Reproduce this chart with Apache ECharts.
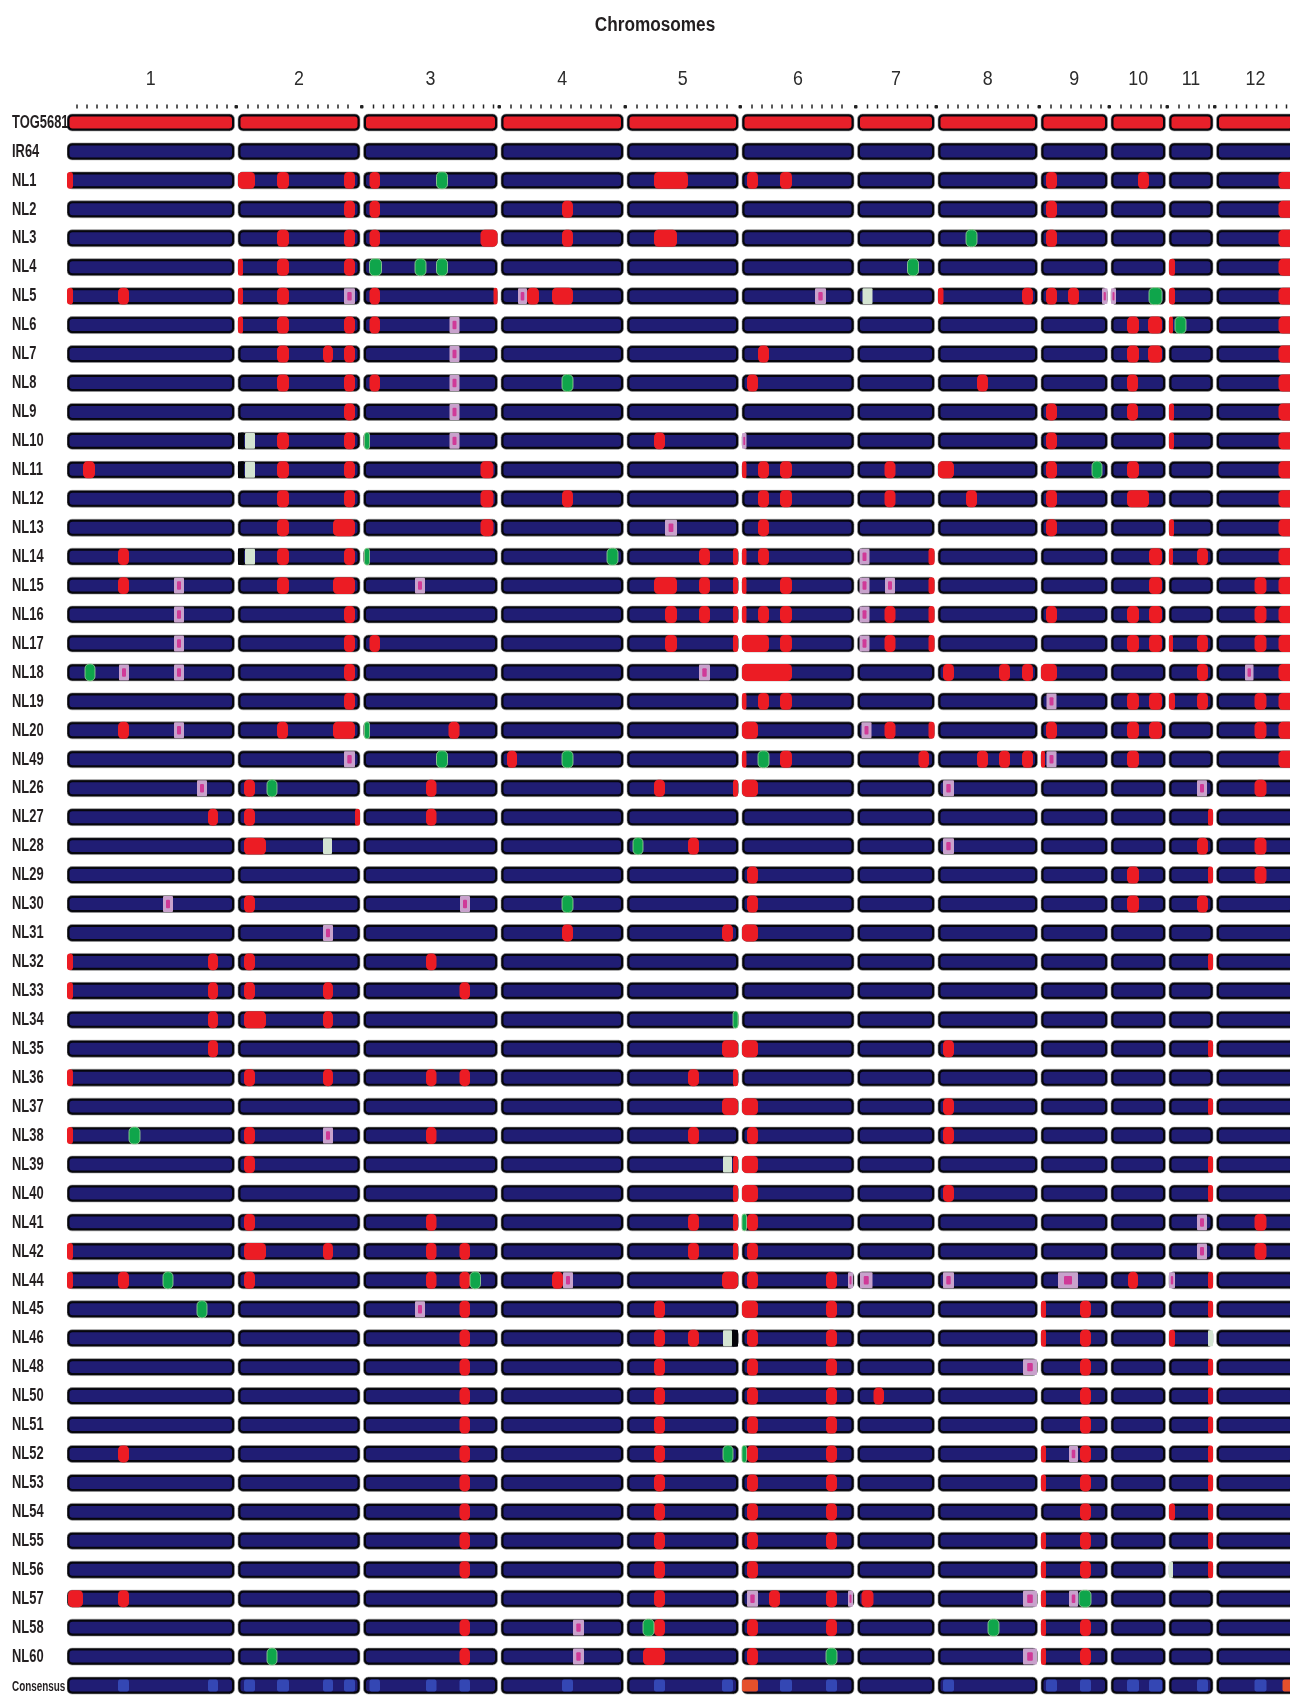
<!DOCTYPE html>
<html><head><meta charset="utf-8">
<script src="https://cdn.jsdelivr.net/npm/echarts@6/dist/echarts.min.js"></script>
<style>html,body{margin:0;padding:0;background:#fff}#c{width:1290px;height:1700px}</style>
</head><body><div id="c"></div><script>
// ---- data ----
const chromosomes = ['1','2','3','4','5','6','7','8','9','10','11','12'];
const chromLengths = [167.5,122,134,122.5,111.5,112,77,99.5,66.5,54.5,44,78];
const lines = ['TOG5681','IR64','NL1','NL2','NL3','NL4','NL5','NL6','NL7','NL8','NL9','NL10','NL11','NL12','NL13','NL14','NL15','NL16','NL17','NL18','NL19','NL20','NL49','NL26','NL27','NL28','NL29','NL30','NL31','NL32','NL33','NL34','NL35','NL36','NL37','NL38','NL39','NL40','NL41','NL42','NL44','NL45','NL46','NL48','NL50','NL51','NL52','NL53','NL54','NL55','NL56','NL57','NL58','NL60','Consensus'];
const donorLine = 'TOG5681';
const titleText = 'Chromosomes';
// [line, chromosome, from, to] — positions along each chromosome
const redMarks = [
['NL1',1,0,6],['NL1',2,0,17],['NL1',2,39,51],['NL1',2,106,117],['NL1',3,6,16.5],['NL1',5,27,61],['NL1',6,5,16],['NL1',6,38,50],['NL1',9,5,16],['NL1',10,27,38],['NL1',12,62,78],
['NL2',2,106,117],['NL2',3,6,16.5],['NL2',4,61,72],['NL2',9,5,16],['NL2',12,62,78],
['NL3',2,39,51],['NL3',2,106,117],['NL3',3,6,16.5],['NL3',3,117,134],['NL3',4,61,72],['NL3',5,27,50],['NL3',9,5,16],['NL3',12,62,78],
['NL4',2,0,5],['NL4',2,39,51],['NL4',2,106,117],['NL4',11,0,6],['NL4',12,62,78],
['NL5',1,0,6],['NL5',1,51,62],['NL5',2,0,5],['NL5',2,39,51],['NL5',3,6,16.5],['NL5',3,130,134],['NL5',4,26,38],['NL5',4,51,72],['NL5',8,0,5.5],['NL5',8,84,95],['NL5',9,5,16],['NL5',9,27,38],['NL5',11,0,6],['NL5',12,62,78],
['NL6',2,0,5],['NL6',2,39,51],['NL6',2,106,117],['NL6',3,6,16.5],['NL6',10,16,28],['NL6',10,37,51],['NL6',11,0,4],['NL6',12,62,78],
['NL7',2,39,51],['NL7',2,85,95],['NL7',2,106,117],['NL7',6,16,27],['NL7',10,16,28],['NL7',10,37,51],['NL7',12,62,78],
['NL8',2,39,51],['NL8',2,106,117],['NL8',3,6,16.5],['NL8',6,5,16],['NL8',8,39,50],['NL8',10,16,27],['NL8',12,62,78],
['NL9',2,106,117],['NL9',9,5,16],['NL9',10,16,27],['NL9',11,0,5],['NL9',12,62,78],
['NL10',2,39,51],['NL10',2,106,117],['NL10',5,27,38],['NL10',9,5,16],['NL10',11,0,5],['NL10',12,62,78],
['NL11',1,16,28],['NL11',2,39,51],['NL11',2,106,117],['NL11',3,117,130],['NL11',6,0,4.5],['NL11',6,16,27],['NL11',6,38,50],['NL11',7,27,38],['NL11',8,0,16],['NL11',9,5,16],['NL11',10,16,28],['NL11',12,62,78],
['NL12',2,39,51],['NL12',2,106,117],['NL12',3,117,130],['NL12',4,61,72],['NL12',6,16,27],['NL12',6,38,50],['NL12',7,27,38],['NL12',8,28,39],['NL12',9,5,16],['NL12',10,16,38],['NL12',12,62,78],
['NL13',2,39,51],['NL13',2,95,117],['NL13',3,117,130],['NL13',6,16,27],['NL13',9,5,16],['NL13',11,0,5],['NL13',12,62,78],
['NL14',1,51,62],['NL14',2,39,51],['NL14',2,106,117],['NL14',5,72,83],['NL14',5,106,111],['NL14',6,0,4.5],['NL14',6,16,27],['NL14',7,71,77],['NL14',10,38,51],['NL14',11,0,4],['NL14',11,28,39],['NL14',12,62,78],
['NL15',1,51,62],['NL15',2,39,51],['NL15',2,95,117],['NL15',5,27,50],['NL15',5,72,83],['NL15',5,106,111],['NL15',6,0,4.5],['NL15',6,38,50],['NL15',7,71,77],['NL15',10,38,51],['NL15',12,38,50],['NL15',12,62,78],
['NL16',2,106,117],['NL16',5,38,50],['NL16',5,72,83],['NL16',5,106,111],['NL16',6,0,4.5],['NL16',6,16,27],['NL16',6,38,50],['NL16',7,27,38],['NL16',7,71,77],['NL16',9,5,16],['NL16',10,16,28],['NL16',10,38,51],['NL16',12,38,50],['NL16',12,62,78],
['NL17',2,106,117],['NL17',3,6,16.5],['NL17',5,38,50],['NL17',5,106,111],['NL17',6,0,27],['NL17',6,38,50],['NL17',7,27,38],['NL17',7,71,77],['NL17',10,16,28],['NL17',10,38,51],['NL17',11,0,4],['NL17',11,28,39],['NL17',12,38,50],['NL17',12,62,78],
['NL18',2,106,117],['NL18',6,0,50],['NL18',8,5,16],['NL18',8,61,72],['NL18',8,84,95],['NL18',9,0,16],['NL18',11,28,39],['NL18',12,62,78],
['NL19',2,106,117],['NL19',6,0,4.5],['NL19',6,16,27],['NL19',6,38,50],['NL19',10,16,28],['NL19',10,38,51],['NL19',11,0,6],['NL19',11,28,39],['NL19',12,38,50],['NL19',12,62,78],
['NL20',1,51,62],['NL20',2,39,50],['NL20',2,95,117],['NL20',3,85,96],['NL20',6,0,16],['NL20',7,27,38],['NL20',7,71,77],['NL20',9,5,16],['NL20',10,16,28],['NL20',10,38,51],['NL20',12,38,50],['NL20',12,62,78],
['NL49',4,6,16],['NL49',6,0,4.5],['NL49',6,38,50],['NL49',7,61,71.5],['NL49',8,39,50],['NL49',8,61,72],['NL49',8,84,95],['NL49',9,0,4],['NL49',10,16,28],['NL49',12,62,78],
['NL26',2,6,17],['NL26',3,62.5,73],['NL26',5,27,38],['NL26',5,106,111],['NL26',6,0,16],['NL26',12,38,50],
['NL27',1,141,151],['NL27',2,6,17],['NL27',2,117,122],['NL27',3,62.5,73],['NL27',11,39,44],
['NL28',2,6,28],['NL28',5,61,72],['NL28',11,28,39],['NL28',12,38,50],
['NL29',6,5,16],['NL29',10,16,28],['NL29',11,39,44],['NL29',12,38,50],
['NL30',2,6,17],['NL30',6,5,16],['NL30',10,16,28],['NL30',11,28,39],
['NL31',4,61,72],['NL31',5,95,106],['NL31',6,0,16],
['NL32',1,0,6],['NL32',1,141,151],['NL32',2,6,17],['NL32',3,62.5,73],['NL32',11,39,44],
['NL33',1,0,6],['NL33',1,141,151],['NL33',2,6,17],['NL33',2,85,95],['NL33',3,96,106.5],
['NL34',1,141,151],['NL34',2,6,28],['NL34',2,85,95],
['NL35',1,141,151],['NL35',5,95,111],['NL35',6,0,16],['NL35',8,5,16],['NL35',11,39,44],
['NL36',1,0,6],['NL36',2,6,17],['NL36',2,85,95],['NL36',3,62.5,73],['NL36',3,96,106.5],['NL36',5,61,72],['NL36',5,106,111],
['NL37',5,95,111],['NL37',6,0,16],['NL37',8,5,16],['NL37',11,39,44],
['NL38',1,0,6],['NL38',2,6,17],['NL38',3,62.5,73],['NL38',5,61,72],['NL38',6,5,16],['NL38',8,5,16],
['NL39',2,6,17],['NL39',5,106,111],['NL39',6,0,16],['NL39',11,39,44],
['NL40',5,106,111],['NL40',6,0,16],['NL40',8,5,16],['NL40',11,39,44],
['NL41',2,6,17],['NL41',3,62.5,73],['NL41',5,61,72],['NL41',5,106,111],['NL41',6,5,16],['NL41',12,38,50],
['NL42',1,0,6],['NL42',2,6,28],['NL42',2,85,95],['NL42',3,62.5,73],['NL42',3,96,106.5],['NL42',5,61,72],['NL42',5,106,111],['NL42',6,5,16],['NL42',12,38,50],
['NL44',1,0,6],['NL44',1,51,62],['NL44',2,6,17],['NL44',3,62.5,73],['NL44',3,96,106.5],['NL44',4,51,62],['NL44',5,95,111],['NL44',6,5,16],['NL44',6,84,95],['NL44',10,17,27],['NL44',11,39,44],
['NL45',3,96,106.5],['NL45',5,27,38],['NL45',6,0,16],['NL45',6,84,95],['NL45',9,0,5],['NL45',9,39,50],['NL45',11,39,44],
['NL46',3,96,106.5],['NL46',5,27,38],['NL46',5,61,72],['NL46',6,5,16],['NL46',6,84,95],['NL46',9,0,5],['NL46',9,39,50],['NL46',11,0,6],
['NL48',3,96,106.5],['NL48',5,27,38],['NL48',6,5,16],['NL48',6,84,95],['NL48',9,39,50],['NL48',11,39,44],
['NL50',3,96,106.5],['NL50',5,27,38],['NL50',6,5,16],['NL50',6,84,95],['NL50',7,16,26.5],['NL50',9,39,50],['NL50',11,39,44],
['NL51',3,96,106.5],['NL51',5,27,38],['NL51',6,5,16],['NL51',6,84,95],['NL51',9,39,50],['NL51',11,39,44],
['NL52',1,51,62],['NL52',3,96,106.5],['NL52',5,27,38],['NL52',6,5,16],['NL52',6,84,95],['NL52',9,0,5],['NL52',9,39,50],['NL52',11,39,44],
['NL53',3,96,106.5],['NL53',5,27,38],['NL53',6,5,16],['NL53',6,84,95],['NL53',9,0,5],['NL53',9,39,50],['NL53',11,39,44],
['NL54',3,96,106.5],['NL54',5,27,38],['NL54',6,5,16],['NL54',6,84,95],['NL54',9,39,50],['NL54',11,0,6],['NL54',11,39,44],
['NL55',3,96,106.5],['NL55',5,27,38],['NL55',6,5,16],['NL55',6,84,95],['NL55',9,0,5],['NL55',9,39,50],['NL55',11,39,44],
['NL56',3,96,106.5],['NL56',5,27,38],['NL56',6,5,16],['NL56',9,0,5],['NL56',9,39,50],['NL56',11,39,44],
['NL57',1,1,16],['NL57',1,51,62],['NL57',5,27,38],['NL57',6,27,38],['NL57',6,84,95],['NL57',7,4,16],['NL57',9,0,5],
['NL58',3,96,106.5],['NL58',5,27,38],['NL58',6,5,16],['NL58',6,84,95],['NL58',9,0,5],['NL58',9,39,50],
['NL60',3,96,106.5],['NL60',5,16,38],['NL60',6,5,16],['NL60',9,0,5],['NL60',9,39,50]
];
const greenMarks = [
['NL1',3,73,84],['NL3',8,28,39],['NL4',3,6,18],['NL4',3,51.5,62.5],['NL4',3,73,84],['NL4',7,50,61],
['NL5',10,38,51],['NL6',11,6,17],['NL8',4,61,72],['NL10',3,1,6],['NL11',9,51,61],['NL14',3,1,6],['NL14',4,106,117],
['NL18',1,18,28],['NL20',3,1,6],['NL49',3,73,84],['NL49',4,61,72],['NL49',6,16,27],['NL26',2,29,39],['NL28',5,6,16],
['NL30',4,61,72],['NL34',5,106,111],['NL38',1,62,73],['NL41',6,0,4.5],['NL44',1,96,106],['NL44',3,106.5,117],
['NL45',1,130,140],['NL52',5,96,106],['NL52',6,0,4.5],['NL57',9,38,50],['NL58',5,16,27],['NL58',8,50,61],['NL60',2,29,39],['NL60',6,84,95]
];
const heteroMarks = [
['NL5',2,106,117],['NL5',4,17,26],['NL5',6,73,84],['NL5',9,61,66.5],['NL5',10,0,5],
['NL6',3,86,96],['NL7',3,86,96],['NL8',3,86,96],['NL9',3,86,96],['NL10',3,86,96],['NL10',6,0,4.5],['NL13',5,38,50],
['NL14',7,2,12],['NL15',1,107,117],['NL15',3,51.5,61.5],['NL15',7,2,12],['NL15',7,27.5,37.5],['NL16',1,107,117],['NL16',7,2,12],
['NL17',1,107,117],['NL17',7,2,12],['NL18',1,52,62],['NL18',1,107,117],['NL18',5,72,83],['NL18',12,28.5,37],['NL19',9,5.5,15.5],
['NL20',1,107,117],['NL20',7,4,14],['NL49',2,106,117],['NL49',9,5.5,15.5],['NL26',1,130,140],['NL26',8,5,16],['NL26',11,28,38],
['NL28',8,5,16],['NL30',1,96,106],['NL30',3,96.5,106.5],['NL31',2,85,95],['NL38',2,85,95],['NL41',11,28,38],['NL42',11,28,38],
['NL44',4,62,72],['NL44',6,106,111],['NL44',7,2.5,15],['NL44',8,5,16],['NL44',9,17,37],['NL44',11,0,6],['NL45',3,51.5,61.5],
['NL48',8,85,99],['NL52',9,28,37],['NL57',6,5,16],['NL57',6,106,111],['NL57',8,85,99],['NL57',9,28,37],['NL58',4,72,83],
['NL60',4,72,83],['NL60',8,85,99]
];
const missingMarks = [
['NL5',7,5,15],['NL10',2,7,17],['NL11',2,7,17],['NL14',2,7,17],['NL28',2,85,94],['NL39',5,96,105],['NL46',5,96,105],['NL46',11,39,44],['NL56',11,0,4]
];
const gapMarks = [['NL10',2,0,6],['NL11',2,0,6],['NL14',2,0,6],['NL46',5,105,111]];
// Consensus row: [chromosome, from, to]
const consensusBlue = [[1,51,62],[1,141,151],[2,6,17],[2,39,51],[2,85,95],[2,106,117],[3,6,16.5],[3,62.5,73],[3,96,106.5],[4,61,72],[5,27,38],[5,95,106],[6,38,50],[6,84,95],[8,5,16],[9,5,16],[9,39,50],[10,16,28],[10,38,51],[11,28,39],[12,38,50]];
const consensusRed = [[6,0,16],[12,66,78]];

// ---- layout helpers ----
const GAP = 3.5;
const offsets = []; let acc = 0;
chromLengths.forEach(l => { offsets.push(acc); acc += l + GAP; });
const rowOf = n => lines.indexOf(n);
const SANS = '"Liberation Sans", Arial, sans-serif';

const bgData = [];
lines.forEach((ln, r) => chromLengths.forEach((l, i) => bgData.push([offsets[i], offsets[i] + l, r])));
const toMarks = (list, t) => list.map(m => [offsets[m[1]-1] + m[2], offsets[m[1]-1] + m[3], rowOf(m[0]), t]);
const markData = [].concat(
  toMarks(gapMarks, 4), toMarks(missingMarks, 3), toMarks(redMarks, 0), toMarks(greenMarks, 1), toMarks(heteroMarks, 2),
  toMarks(consensusBlue.map(m => ['Consensus', ...m]), 5), toMarks(consensusRed.map(m => ['Consensus', ...m]), 6)
);
const headerData = chromLengths.map((l, i) => [offsets[i], offsets[i] + l, 0, i]);
const labelData = lines.map((l, i) => [0, 0, i]);

function geom(api) {
  const p0 = api.coord([api.value(0), api.value(2)]);
  const p1 = api.coord([api.value(1), api.value(2)]);
  const band = api.size([0, 1])[1];
  const h = band * 0.585;
  return { x: p0[0], y: p0[1] - h / 2, w: p1[0] - p0[0], h, cy: p0[1] };
}
function bgRender(params, api) {
  const g = geom(api);
  const donor = lines[api.value(2)] === donorLine;
  return { type: 'group', children: [
    { type: 'rect', shape: { x: g.x, y: g.y, width: g.w, height: g.h, r: 5 }, style: { fill: '#06060c', stroke: '#9a9a9a', lineWidth: 0.6 } },
    { type: 'rect', shape: { x: g.x + 2.5, y: g.y + 2.5, width: g.w - 5, height: g.h - 5, r: 3 }, style: { fill: donor ? '#e8202a' : '#201d74' } }
  ]};
}
function markRender(params, api) {
  const g = geom(api);
  const t = api.value(3);
  const w = Math.max(g.w, 2);
  const rad = Math.min(4.5, w / 2);
  if (t === 0) return { type: 'rect', shape: { x: g.x, y: g.y, width: w, height: g.h, r: rad }, style: { fill: '#ec1c24' } };
  if (t === 1) return { type: 'rect', shape: { x: g.x, y: g.y, width: w, height: g.h, r: rad }, style: { fill: '#0fa54b', stroke: '#9fd89a', lineWidth: 0.8 } };
  if (t === 2) return { type: 'group', children: [
    { type: 'rect', shape: { x: g.x, y: g.y + 0.5, width: w, height: g.h - 1, r: 1 }, style: { fill: '#c8a2cc' } },
    { type: 'rect', shape: { x: g.x + w * 0.3, y: g.y + g.h * 0.25, width: w * 0.4, height: g.h * 0.5, r: 1 }, style: { fill: '#cf3a98' } }
  ]};
  if (t === 3) return { type: 'rect', shape: { x: g.x, y: g.y + 0.5, width: w, height: g.h - 1, r: 1 }, style: { fill: '#d4e4d2' } };
  if (t === 4) return { type: 'rect', shape: { x: g.x, y: g.y, width: w, height: g.h, r: 1 }, style: { fill: '#05050a' } };
  if (t === 5) return { type: 'rect', shape: { x: g.x, y: g.y + 2.5, width: w, height: g.h - 5, r: 2 }, style: { fill: '#3447b4' } };
  return { type: 'rect', shape: { x: g.x, y: g.y + 2.5, width: w, height: g.h - 5, r: 2 }, style: { fill: '#e5502c' } };
}
function headerRender(params, api) {
  const i = api.value(3);
  const x0 = api.coord([api.value(0), 0])[0];
  const x1 = api.coord([api.value(1), 0])[0];
  const y0 = api.coord([0, 0])[1];
  const kids = [{ type: 'text', x: (x0 + x1) / 2, y: y0 - 43.5, scaleX: 0.85,
    style: { text: chromosomes[i], fill: '#2b2b2b', font: '21px ' + SANS, align: 'center', verticalAlign: 'middle' } }];
  const len = api.value(1) - api.value(0);
  for (let k = 10; k < len - 3; k += 10) {
    const x = api.coord([api.value(0) + k, 0])[0];
    kids.push({ type: 'rect', shape: { x: x - 0.75, y: y0 - 18, width: 1.5, height: 4 }, style: { fill: '#222' } });
  }
  if (i > 0) kids.push({ type: 'rect', shape: { x: x0 - 3.5, y: y0 - 17.5, width: 3.5, height: 3.5, r: 1 }, style: { fill: '#222' } });
  return { type: 'group', children: kids };
}
function labelRender(params, api) {
  const r = api.value(2);
  const cy = api.coord([0, r])[1];
  const name = lines[r];
  const small = name === 'Consensus';
  return { type: 'text', x: 12, y: cy + (small ? 1 : 0), scaleX: small ? 0.66 : 0.68,
    style: { text: name, fill: '#231f20', font: 'bold ' + (small ? 15 : 19) + 'px ' + SANS, align: 'left', verticalAlign: 'middle' } };
}

const chart = echarts.init(document.getElementById('c'), null, { renderer: 'canvas' });
chart.setOption({
  animation: false,
  backgroundColor: '#ffffff',
  graphic: [{ type: 'text', x: 655, y: 25, scaleX: 0.86,
    style: { text: titleText, fill: '#231f20', font: 'bold 20px ' + SANS, align: 'center', verticalAlign: 'middle' } }],
  grid: { left: 67, top: 108, width: 1223, height: 1599 },
  xAxis: { type: 'value', min: 0, max: 1223, show: false },
  yAxis: { type: 'category', data: lines, inverse: true, show: false },
  series: [
    { type: 'custom', name: 'chromosomes', clip: true, silent: true, renderItem: bgRender, data: bgData, encode: { x: [0, 1], y: 2 } },
    { type: 'custom', name: 'alleles', clip: true, silent: true, renderItem: markRender, data: markData, encode: { x: [0, 1], y: 2 } },
    { type: 'custom', name: 'header', clip: false, silent: true, renderItem: headerRender, data: headerData, encode: { x: [0, 1], y: 2 } },
    { type: 'custom', name: 'lineLabels', clip: false, silent: true, renderItem: labelRender, data: labelData, encode: { x: 0, y: 2 }, z: 5 }
  ]
});
</script></body></html>
